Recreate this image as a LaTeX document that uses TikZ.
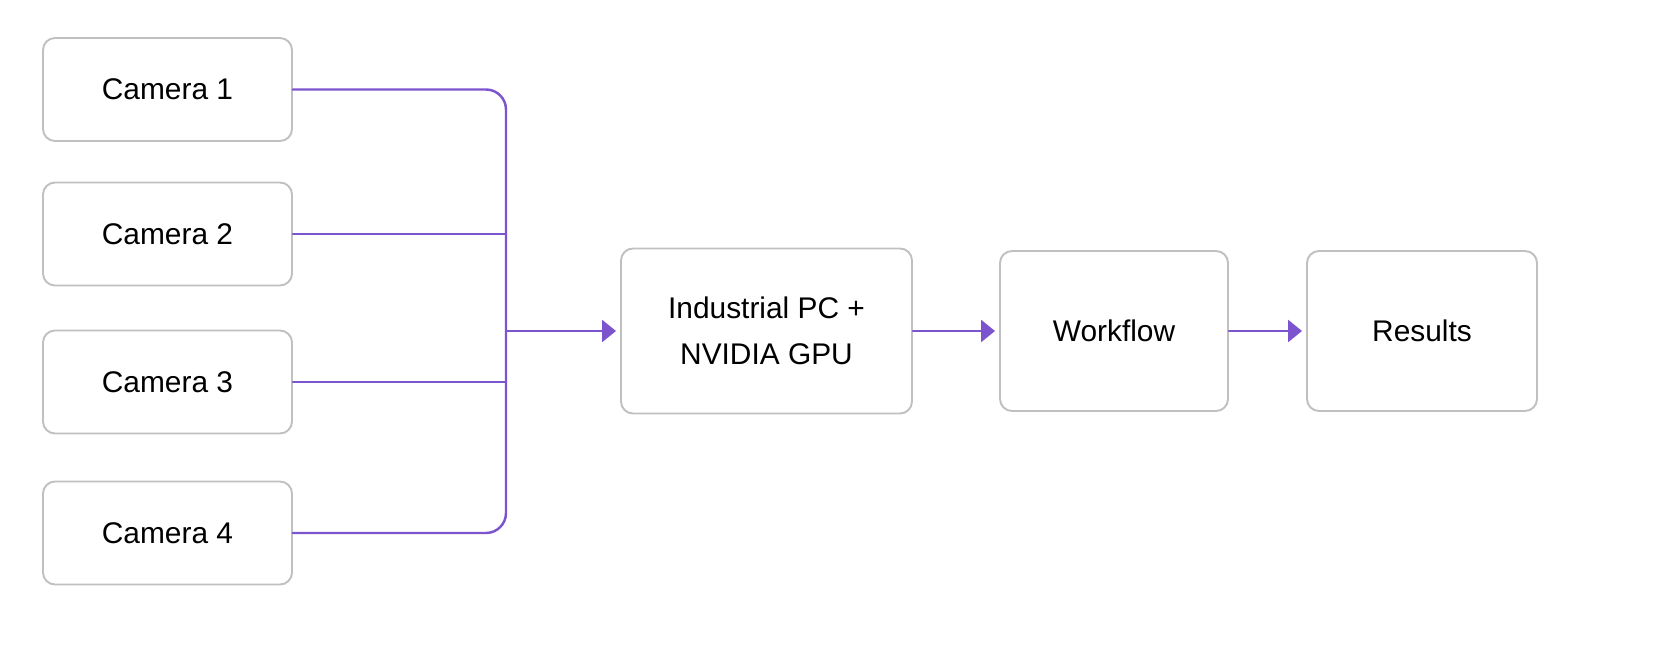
\documentclass[tikz,border=0pt]{standalone}
\usepackage{fontspec}
\setmainfont{Liberation Sans}
\usepackage{xcolor}
\usetikzlibrary{arrows.meta}
\definecolor{wirepurple}{RGB}{124,84,206}
\definecolor{boxgray}{RGB}{192,192,192}

\begin{document}
\begin{tikzpicture}[line cap=round,line join=round,x=0.2mm,y=-0.2mm,
  box/.style={draw=boxgray,line width=1.1pt,rounded corners=0.24cm,fill=white,
    align=center,font=\fontsize{17}{26}\selectfont,inner sep=0pt},
  cambox/.style={box,minimum width=4.98cm,minimum height=2.06cm},
  wire/.style={draw=wirepurple,line width=1.4pt},
  arr/.style={wire,-{Triangle[length=0.28cm,width=0.44cm]},shorten >=0.08cm}]
\useasboundingbox (0,0) rectangle (1672,662);
\node[cambox] (cam1) at (167.5,89.5) {Camera 1};
\node[cambox] (cam2) at (167.5,234) {Camera 2};
\node[cambox] (cam3) at (167.5,382) {Camera 3};
\node[cambox] (cam4) at (167.5,533) {Camera 4};
\node[box,minimum width=5.82cm,minimum height=3.3cm] (pc) at (766.5,331) {Industrial PC +\\NVIDIA GPU};
\node[box,minimum width=4.56cm,minimum height=3.2cm] (flow) at (1114,331) {Workflow};
\node[box,minimum width=4.6cm,minimum height=3.2cm] (res) at (1422,331) {Results};
\coordinate (busbot) at (506,533);
% cameras to the bus
\draw[wire,rounded corners=0.4cm] (cam1.east) -| (busbot) -- (cam4.east);
\draw[wire] (cam2.east) -- (cam2.east -| busbot);
\draw[wire] (cam3.east) -- (cam3.east -| busbot);
% chain
\draw[arr] (pc.west -| busbot) -- (pc.west);
\draw[arr] (pc.east) -- (flow.west);
\draw[arr] (flow.east) -- (res.west);
\end{tikzpicture}
\end{document}
